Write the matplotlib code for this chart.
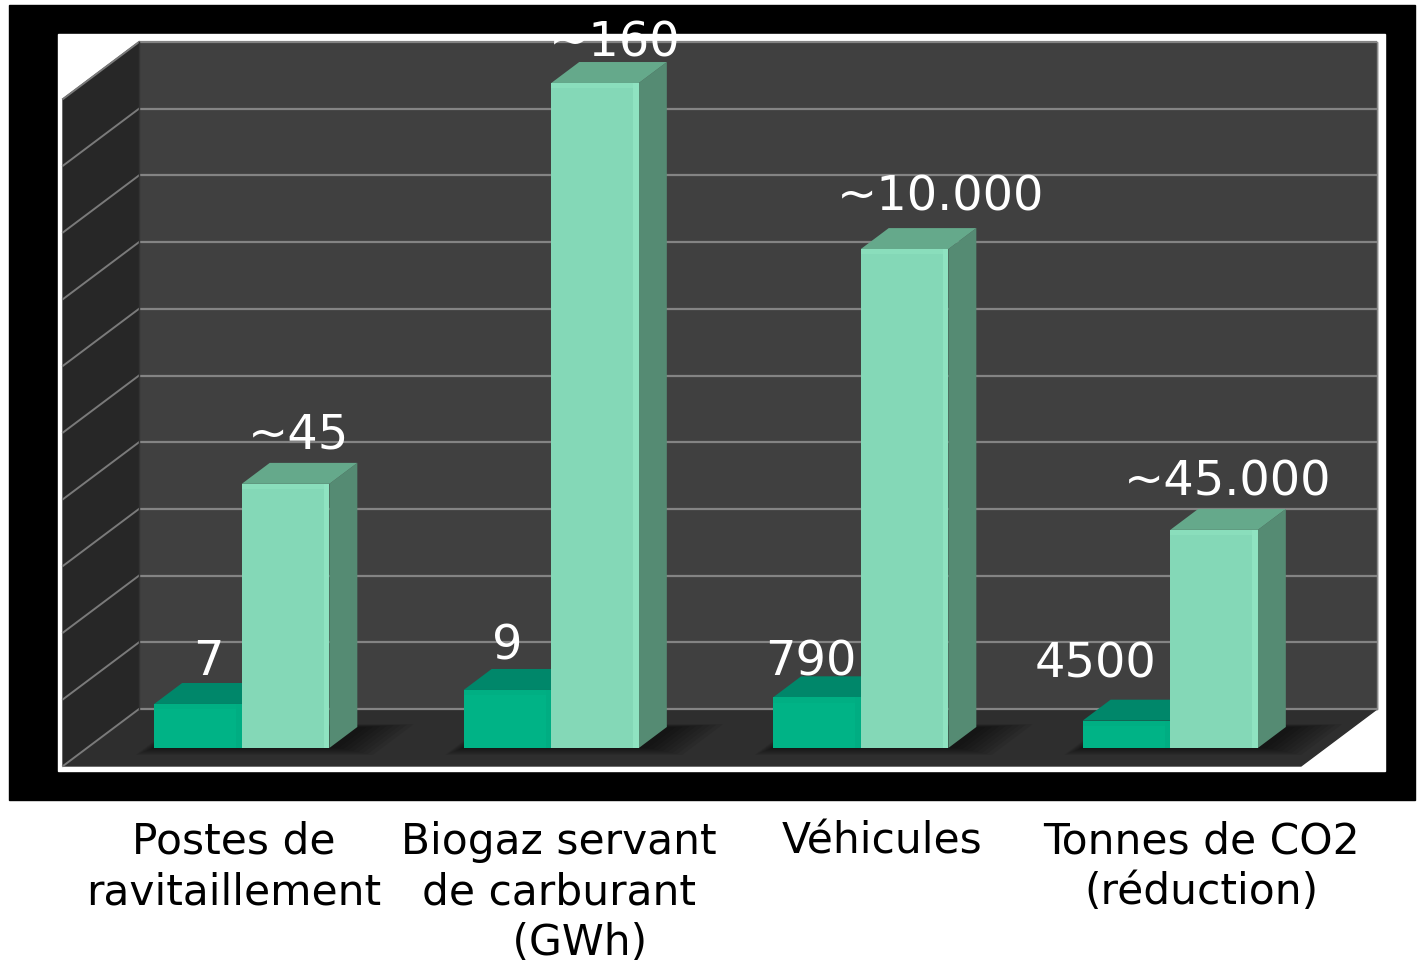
import numpy as np
import matplotlib
matplotlib.use("Agg")
import matplotlib.pyplot as plt
from matplotlib.patches import Polygon, Rectangle

# --- data ---
categories = ["Postes de\nravitaillement",
              "Biogaz servant\nde carburant\n   (GWh)",
              "Véhicules",
              "Tonnes de CO2\n(réduction)"]
before_labels = ["7", "9", "790", "4500"]
after_labels = ["~45", "~160", "~10.000", "~45.000"]
# bar heights as drawn (grid units 0-10, one gridline per unit)
before_heights = [0.66, 0.87, 0.76, 0.41]
after_heights = [3.96, 9.97, 7.48, 3.27]

# --- layout (pixels of the 1419x966 picture) ---
W, H = 1419, 966
GX0, GW = 139, 309.5      # back wall left edge, px per category
Y0, UH = 709, 66.7        # back floor line, px per grid unit
DX, DY = -76 / GW, -57 / UH   # floor depth toward viewer
Z_FRONT, Z_BACK = 0.684, 0.316
BAR_W = 0.283

# label nudges in px (dx, dy) from the bar's front top centre
before_nudge = [(10, -29), (0, -30), (-6, -22), (-31, -43)]
after_nudge = [(13, -35), (20, -26), (36, -39), (14, -34)]
cat_nudge = [-8, 8, 21, 31]


def px(x, y):
    return (x - GX0) / GW, (Y0 - y) / UH


fig = plt.figure(figsize=(W / 100, H / 100), dpi=100)
ax = fig.add_axes([0, 0, 1, 1])
ax.set_xlim(px(0, 0)[0], px(W, 0)[0])
ax.set_ylim(px(0, H)[1], px(0, 0)[1])
ax.axis("off")

# black frame and white plot area
x0, y0 = px(9, 800)
ax.add_patch(Rectangle((x0, y0), (1415 - 9) / GW, (800 - 5) / UH, color="black", zorder=0))
x0, y0 = px(58, 771)
ax.add_patch(Rectangle((x0, y0), (1385 - 58) / GW, (771 - 34) / UH, color="white", zorder=0.5))

n = len(categories)
top = 10

# walls and floor
ax.add_patch(Polygon([(0, 0), (n, 0), (n, top), (0, top)], color="#404040", zorder=1))
ax.add_patch(Polygon([(0, 0), (0, top), (DX, top + DY), (DX, DY)], color="#272727", zorder=1))
ax.add_patch(Polygon([(0, 0), (n, 0), (n + DX, DY), (DX, DY)], color="#2e2e2e", zorder=1))

for k in range(top + 1):
    ax.plot([0, n], [k, k], color="#848484", lw=1.6, zorder=2, solid_capstyle="butt")
    ax.plot([0, DX], [k, k + DY], color="#7a7a7a", lw=1.4, zorder=2)
ax.plot([n, n], [0, top], color="#8a8a8a", lw=1.0, zorder=2)
ax.plot([0, 0], [0, top], color="#333333", lw=1.0, zorder=2)

fx, fy = Z_FRONT * DX, Z_FRONT * DY
bx, by = Z_BACK * DX, Z_BACK * DY


def shadow(xa, xb):
    # soft shadow on the floor around a bar pair
    for s in np.linspace(0, 1, 8):
        za, zb = Z_BACK - 0.05 * s, Z_FRONT + 0.12 * s
        xl, xr = xa - 0.03 * s, xb + 0.03 + 0.14 * s
        ax.add_patch(Polygon([(xl + za * DX, za * DY), (xr + za * DX, za * DY),
                              (xr + zb * DX, zb * DY), (xl + zb * DX, zb * DY)],
                             color="black", alpha=0.08, lw=0, zorder=3))


def bar3d(xa, xb, h, c_front, c_side, c_top, c_edge, z):
    ax.add_patch(Polygon([(xb + fx, fy), (xb + bx, by), (xb + bx, h + by), (xb + fx, h + fy)],
                         color=c_side, lw=0, zorder=z))
    ax.add_patch(Polygon([(xa + fx, h + fy), (xb + fx, h + fy), (xb + bx, h + by), (xa + bx, h + by)],
                         color=c_top, lw=0, zorder=z))
    ax.add_patch(Rectangle((xa + fx, fy), xb - xa, h, color=c_front, lw=0, zorder=z + 0.1))
    e = 0.018
    ax.add_patch(Rectangle((xb + fx - e, fy), e, h, color=c_edge, lw=0, zorder=z + 0.2))
    ax.add_patch(Rectangle((xa + fx, fy + h - 0.08), xb - xa, 0.08, color=c_edge, lw=0,
                           alpha=0.6, zorder=z + 0.2))


for i in range(n):
    c = i + 0.5
    shadow(c - BAR_W, c + BAR_W)
    bar3d(c - BAR_W, c, before_heights[i], "#00b386", "#00785c", "#00876a", "#00ad82", 4)
    bar3d(c, c + BAR_W, after_heights[i], "#84d8b7", "#558b73", "#65a98b", "#8fe3c1", 5)

    # value labels
    ddx, ddy = before_nudge[i]
    ax.text(c - BAR_W / 2 + fx + ddx / GW, before_heights[i] + fy - ddy / UH,
            before_labels[i], color="white", fontsize=34.5, ha="center", va="baseline", zorder=8)
    ddx, ddy = after_nudge[i]
    ax.text(c + BAR_W / 2 + fx + ddx / GW, after_heights[i] + fy - ddy / UH,
            after_labels[i], color="white", fontsize=34.5, ha="center", va="baseline", zorder=8)

    # category labels below the frame
    ax.text(c + fx + cat_nudge[i] / GW, px(0, 821)[1], categories[i], color="black",
            fontsize=30.5, ha="center", va="top", multialignment="center",
            linespacing=1.25, zorder=8)

fig.savefig("out.png", dpi=100, facecolor="white")
